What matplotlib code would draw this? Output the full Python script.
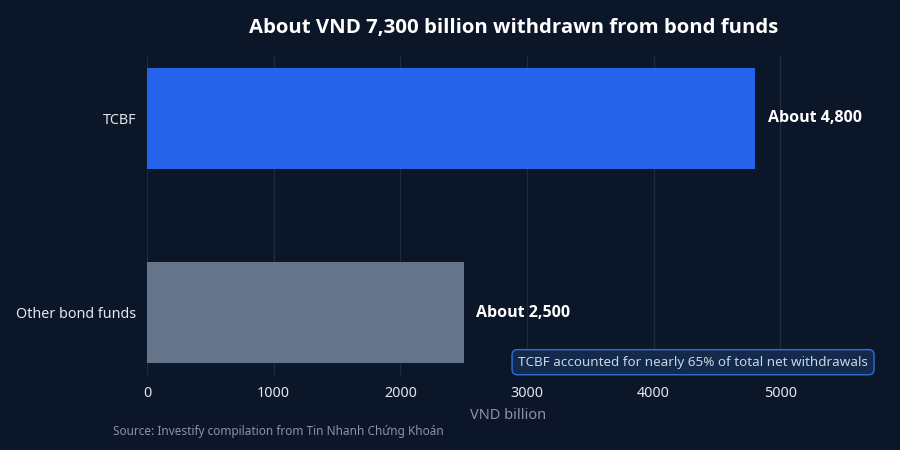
import matplotlib.pyplot as plt

categories = ["TCBF", "Other bond funds"]
values = [4800, 2500]
value_labels = ["About 4,800", "About 2,500"]
bar_colors = ["#2563eb", "#64748b"]
xticks = [0, 1000, 2000, 3000, 4000, 5000]

bg = "#0b1628"
plt.rcParams['font.family'] = ['Noto Sans', 'DejaVu Sans']
bold_font = ['Open Sans', 'DejaVu Sans']

fig = plt.figure(figsize=(9, 4.5), dpi=100, facecolor=bg)
ax = fig.add_axes([147 / 900, 1 - 375 / 450, (869 - 147) / 900, 320 / 450])
ax.set_facecolor(bg)

ypos = range(len(categories))
ax.barh(ypos, values, height=0.52, color=bar_colors, zorder=2)
for y, v, lab in zip(ypos, values, value_labels):
    ax.text(v + 100, y, lab, va='center', ha='left', color='white',
            fontsize=11.5, fontweight='bold', family=bold_font)

ax.set_xlim(0, 5700)
ax.set_ylim(1.322, -0.327)
ax.set_yticks(list(ypos))
ax.set_yticklabels(categories)
ax.set_xticks(xticks)
ax.tick_params(axis='both', length=0, colors='#e5e7eb', labelsize=10.3)
ax.tick_params(axis='x', pad=8)
ax.tick_params(axis='y', pad=8)
ax.grid(axis='x', color='#1f2b3d', linewidth=1, zorder=0)
for s in ax.spines.values():
    s.set_visible(False)
ax.set_xlabel("VND billion", color='#8a94a6', fontsize=10.5, labelpad=5)

fig.text(514 / 900, 1 - 28 / 450, "About VND 7,300 billion withdrawn from bond funds",
         ha='center', va='center', color='white', fontsize=14.7, fontweight='bold',
         family=bold_font)
fig.text(113 / 900, 1 - 432 / 450, "Source: Investify compilation from Tin Nhanh Chứng Khoán",
         ha='left', va='center', color='#8a94a6', fontsize=8.5)

ax.text(0.9986, 0.04, "TCBF accounted for nearly 65% of total net withdrawals",
        transform=ax.transAxes, ha='right', va='center', color='#cbd5e1', fontsize=9.7,
        bbox=dict(boxstyle='round,pad=0.45,rounding_size=0.4', facecolor='#142a4c',
                  edgecolor='#2f6fd6', linewidth=1))

fig.savefig("out.png", dpi=100, facecolor=bg)
